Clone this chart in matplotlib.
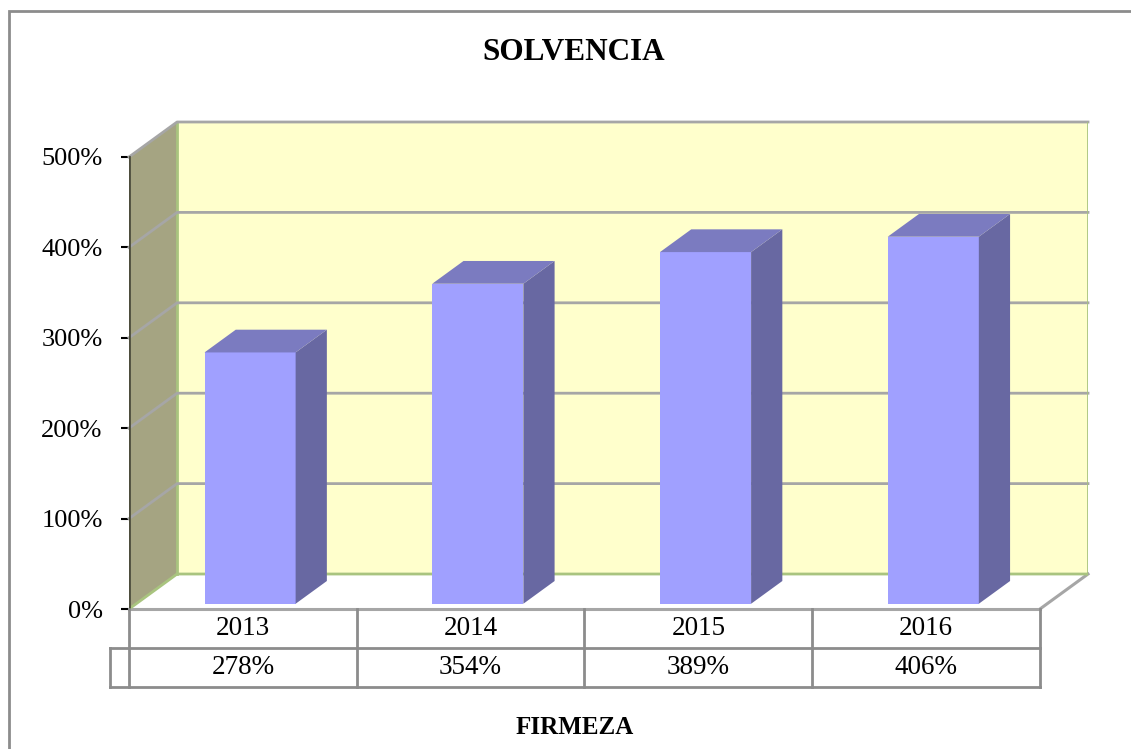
import matplotlib
matplotlib.use("Agg")
import matplotlib.pyplot as plt
from matplotlib.patches import Polygon, Rectangle

# datos
anios = ["2013", "2014", "2015", "2016"]
solvencia = [278, 354, 389, 406]
etiquetas = ["278%", "354%", "389%", "406%"]
ticks = [0, 100, 200, 300, 400, 500]

plt.rcParams["font.family"] = ["Liberation Serif", "DejaVu Serif"]

# profundidad "3D" falsa (en unidades de datos)
DX = 0.211   # categorias
DY = 38.7    # porcentaje
d_f, d_b = 0.15, 0.80   # profundidad de la cara frontal / trasera de las barras
ancho = 0.4


def p(x, y, d):
    return (x + d * DX, y + d * DY)


fig = plt.figure(figsize=(11.31, 7.49), dpi=100)
ax = fig.add_axes([129 / 1131, 140 / 749, 959 / 1131, 487 / 749])
n = len(anios)
ax.set_xlim(0, n + DX)
ax.set_ylim(0, 500 + DY)
ax.set_facecolor("none")
for s in ax.spines.values():
    s.set_visible(False)

gris = "#a6a6a6"
verde = "#a9c47f"

# piso
ax.add_patch(Polygon([p(0, 0, 0), p(n, 0, 0), p(n, 0, 1), p(0, 0, 1)],
                     closed=True, facecolor="white", edgecolor="none", zorder=1))
ax.plot(*zip(p(0, 0, 0), p(n, 0, 0)), color=gris, lw=2.2, zorder=2, clip_on=False)
ax.plot(*zip(p(n, 0, 0), p(n, 0, 1)), color=gris, lw=2.2, zorder=2, clip_on=False)

# pared del fondo
ax.add_patch(Polygon([p(0, 0, 1), p(n, 0, 1), p(n, 500, 1), p(0, 500, 1)],
                     closed=True, facecolor="#ffffcc", edgecolor="none", zorder=1))
# pared lateral
ax.add_patch(Polygon([p(0, 0, 0), p(0, 0, 1), p(0, 500, 1), p(0, 500, 0)],
                     closed=True, facecolor="#a5a482", edgecolor="none", zorder=1))
ax.plot(*zip(p(0, 0, 0), p(0, 0, 1), p(n, 0, 1)), color=verde, lw=2, zorder=2)
ax.plot(*zip(p(0, 0, 1), p(0, 500, 1)), color=verde, lw=2, zorder=2)

# lineas de division
for t in ticks[1:]:
    ax.plot(*zip(p(0, t, 0), p(0, t, 1), p(n, t, 1)), color=gris, lw=2, zorder=2,
            clip_on=False)
ax.plot(*zip(p(n, 0, 1), p(n, 500, 1)), color=verde, lw=2, zorder=2)

# eje vertical
ax.plot([0, 0], [0, 500], color="#4d4d3d", lw=2, zorder=3)
ax.set_yticks(ticks)
ax.set_yticklabels([f"{t}%" for t in ticks], fontsize=19)
ax.tick_params(axis="y", length=6, width=1.5, color="black", pad=13)
ax.set_xticks([])

# barras
xs = [i + 0.5 - ancho / 2 for i in range(n)]
ax.bar([x + d_f * DX for x in xs], solvencia, bottom=d_f * DY, width=ancho,
       align="edge", color="#a0a0ff", zorder=4)
for x, v in zip(xs, solvencia):
    ax.add_patch(Polygon([p(x + ancho, 0, d_f), p(x + ancho, 0, d_b),
                          p(x + ancho, v, d_b), p(x + ancho, v, d_f)],
                         closed=True, facecolor="#6868a2", edgecolor="none", zorder=4))
    ax.add_patch(Polygon([p(x, v, d_f), p(x + ancho, v, d_f),
                          p(x + ancho, v, d_b), p(x, v, d_b)],
                         closed=True, facecolor="#7b7bc0", edgecolor="none", zorder=4))

# tabla de datos
fila = 43.1
izq = -19 / 227.75
kw = dict(color="#8c8c8c", lw=2, clip_on=False, zorder=5)
for i in range(n + 1):
    ax.plot([i, i], [0, -2 * fila], **kw)
ax.plot([izq, n], [-fila, -fila], **kw)
ax.plot([izq, n], [-2 * fila, -2 * fila], **kw)
ax.plot([izq, izq], [-fila, -2 * fila], **kw)
for i in range(n):
    ax.text(i + 0.5, -fila * 0.5, anios[i], ha="center", va="center", fontsize=19.5)
    ax.text(i + 0.5, -fila * 1.5, etiquetas[i], ha="center", va="center", fontsize=19.5)

# titulo y borde
fig.text(574 / 1131, 1 - 52 / 749, "SOLVENCIA", ha="center", va="center",
         fontsize=22.5, fontweight="bold")
fig.text(575 / 1131, 1 - 728 / 749, "FIRMEZA", ha="center", va="center",
         fontsize=18, fontweight="bold")
fig.add_artist(Rectangle((9 / 1131, -0.1), 1.2, 1 - 11 / 749 + 0.1,
                         transform=fig.transFigure, fill=False,
                         edgecolor="#8c8c8c", lw=2))

fig.savefig("out.png", dpi=100)
